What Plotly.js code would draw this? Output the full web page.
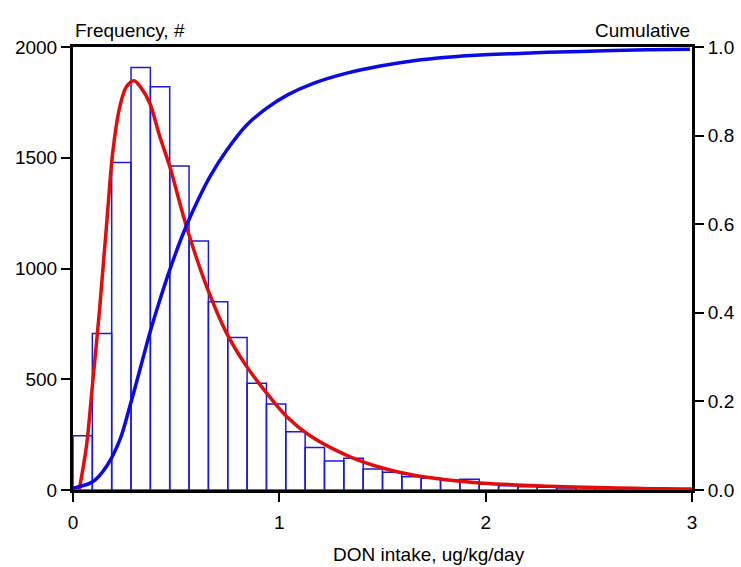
<!DOCTYPE html>
<html>
<head>
<meta charset="utf-8">
<script src="https://cdn.plot.ly/plotly-3.0.1.min.js"></script>
<style>html,body{margin:0;padding:0;background:#fff;}#chart{width:741px;height:567px;}</style>
</head>
<body>
<div id="chart"></div>
<script>
// Histogram: 32 bins over 0..3 (bin width 3/32)
const binWidth = 3 / 32;
const binCounts = [245, 707, 1478, 1907, 1820, 1463, 1124, 850, 688, 482, 388, 263, 192, 131, 143, 95,
                   80, 60, 53, 45, 48, 26, 19, 15, 12, 9, 12, 8, 5, 4, 3, 2];
const binCenters = binCounts.map((_, i) => (i + 0.5) * binWidth);

// Fitted density curve (red), frequency scale
const fitX = [0.03, 0.065, 0.092, 0.13, 0.162, 0.194, 0.227, 0.259, 0.295, 0.332, 0.372, 0.421, 0.469, 0.55,
              0.648, 0.745, 0.842, 0.939, 1.036, 1.149, 1.343, 1.505, 1.667, 1.829, 1.99, 2.15, 2.314,
              2.48, 2.64, 2.8, 2.96, 3.0];
const fitY = [0, 196, 451, 828, 1189, 1535, 1731, 1821, 1848, 1813, 1746, 1595, 1460, 1189,
              918, 707, 557, 437, 331, 245, 150, 98, 64, 44, 31, 23, 17,
              12, 9, 6, 4, 4];

// Cumulative curve (blue), right axis
const cumX = [0, 0.097, 0.162, 0.227, 0.275, 0.324, 0.372, 0.421, 0.469, 0.534, 0.583, 0.663, 0.745, 0.842,
              0.939, 1.040, 1.165, 1.327, 1.489, 1.651, 1.813, 1.974, 2.136, 2.298, 2.46, 2.62, 2.78, 2.99];
const cumY = [0.004, 0.019, 0.053, 0.113, 0.188, 0.271, 0.354, 0.429, 0.497, 0.579, 0.632, 0.707, 0.767, 0.824,
              0.862, 0.892, 0.918, 0.941, 0.957, 0.969, 0.977, 0.982, 0.985, 0.988, 0.990, 0.992, 0.994, 0.995];

const xTicks = [0, 1, 2, 3];
const yTicks = [0, 500, 1000, 1500, 2000];
const y2Ticks = [0, 0.2, 0.4, 0.6, 0.8, 1.0];

const FONT = '"Liberation Sans Narrow", "Arial Narrow", "Liberation Sans", Arial, sans-serif';
const FS = 19;

const traces = [
  {
    type: 'bar', x: binCenters, y: binCounts, width: binWidth,
    marker: {color: 'rgba(255,255,255,0)', line: {color: '#1a1adf', width: 1.5}},
    hoverinfo: 'x+y'
  },
  {
    type: 'scatter', mode: 'lines', x: cumX, y: cumY, yaxis: 'y2',
    line: {color: '#0a0ae6', width: 3.5, shape: 'spline', smoothing: 1}
  },
  {
    type: 'scatter', mode: 'lines', x: fitX, y: fitY,
    line: {color: '#e30b0b', width: 3.5, shape: 'spline', smoothing: 1}
  }
];

const axisCommon = {
  showline: true, linecolor: '#000', linewidth: 3,
  ticks: 'outside', ticklen: 9, tickwidth: 2, tickcolor: '#000',
  showgrid: false, zeroline: false,
  tickfont: {family: FONT, size: FS}
};

const layout = {
  width: 741, height: 567,
  margin: {l: 73, r: 49, t: 47, b: 77},
  paper_bgcolor: '#fff', plot_bgcolor: '#fff',
  showlegend: false,
  bargap: 0,
  font: {family: FONT, size: FS, color: '#000'},
  xaxis: Object.assign({}, axisCommon, {
    range: [0, 3], tickvals: xTicks, ticktext: xTicks.map(String), mirror: true, ticklabelstandoff: 4
  }),
  yaxis: Object.assign({}, axisCommon, {
    range: [0, 2000], tickvals: yTicks, ticktext: yTicks.map(String)
  }),
  yaxis2: Object.assign({}, axisCommon, {
    range: [0, 1], overlaying: 'y', side: 'right',
    tickvals: y2Ticks, ticktext: y2Ticks.map(v => v.toFixed(1))
  }),
  annotations: [
    {text: 'Frequency, #', xref: 'paper', yref: 'paper', x: 0, y: 1, xanchor: 'left', yanchor: 'bottom',
     yshift: 4, showarrow: false, font: {family: FONT, size: FS}},
    {text: 'Cumulative', xref: 'paper', yref: 'paper', x: 1, y: 1, xanchor: 'right', yanchor: 'bottom',
     yshift: 4, showarrow: false, font: {family: FONT, size: FS}},
    {text: 'DON intake, ug/kg/day', xref: 'paper', yref: 'paper', x: 0.575, y: 0, xanchor: 'center', yanchor: 'top',
     yshift: -52, showarrow: false, font: {family: FONT, size: FS}}
  ]
};

Plotly.newPlot('chart', traces, layout, {displayModeBar: false, staticPlot: true});
</script>
</body>
</html>
